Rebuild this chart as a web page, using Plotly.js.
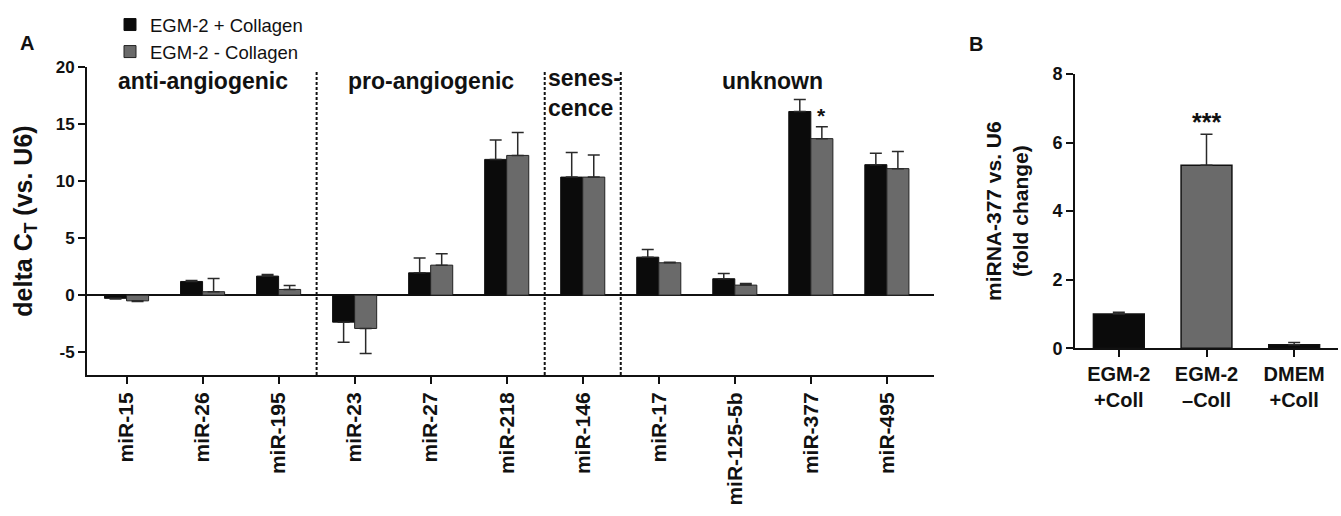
<!DOCTYPE html>
<html><head><meta charset="utf-8">
<script src="https://cdn.plot.ly/plotly-3.0.1.min.js"></script>
<style>html,body{margin:0;padding:0;background:#fff}</style>
</head><body><div id="chart" style="width:1341px;height:516px"></div>
<script>
// ---- Panel A data ----
const mirnas = ['miR-15','miR-26','miR-195','miR-23','miR-27','miR-218','miR-146','miR-17','miR-125-5b','miR-377','miR-495'];
const plusColl = [-0.28, 1.2, 1.67, -2.37, 1.96, 11.9, 10.35, 3.33, 1.44, 16.1, 11.44];
const plusCollErr = [0.05, 0.08, 0.15, 1.75, 1.3, 1.7, 2.15, 0.67, 0.46, 1.05, 1.0];
const minusColl = [-0.5, 0.3, 0.5, -2.92, 2.63, 12.25, 10.35, 2.84, 0.88, 13.72, 11.09];
const minusCollErr = [0.05, 1.15, 0.35, 2.2, 1.0, 2.0, 1.93, 0.05, 0.15, 1.05, 1.5];
const seriesNames = ['EGM-2 + Collagen', 'EGM-2 - Collagen'];
const groupNames = ['anti-angiogenic', 'pro-angiogenic', 'senes-<br>cence', 'unknown'];
const groupFirst = ['miR-15', 'miR-23', 'miR-146', 'miR-17'];
const groupLast = ['miR-195', 'miR-218', 'miR-146', 'miR-495'];
const yTicksA = [-5, 0, 5, 10, 15, 20];
const sigA = {category: 'miR-377', label: '*'};

// ---- Panel B data ----
const conditions = ['EGM-2<br>+Coll', 'EGM-2<br>–Coll', 'DMEM<br>+Coll'];
const foldChange = [1.0, 5.34, 0.1];
const foldErr = [0.05, 0.9, 0.07];
const yTicksB = [0, 2, 4, 6, 8];
const sigB = {category: 'EGM-2<br>–Coll', label: '***'};

const BLACK = '#0b0b0b', GREY = '#6a6a6a';
const FONT = 'Liberation Sans, Arial, Helvetica, sans-serif';
const up = (v, e) => v.map((x, i) => x >= 0 ? e[i] : 0);
const down = (v, e) => v.map((x, i) => x < 0 ? e[i] : 0);
const errStyle = {color: '#2a2a2a', thickness: 1.5, width: 6};

const traces = [
  {type: 'bar', name: seriesNames[0], x: mirnas, y: plusColl, xaxis: 'x', yaxis: 'y',
   marker: {color: BLACK, line: {color: '#111', width: 1}},
   error_y: Object.assign({type: 'data', symmetric: false, array: up(plusColl, plusCollErr), arrayminus: down(plusColl, plusCollErr)}, errStyle)},
  {type: 'bar', name: seriesNames[1], x: mirnas, y: minusColl, xaxis: 'x', yaxis: 'y',
   marker: {color: GREY, line: {color: '#222', width: 1}},
   error_y: Object.assign({type: 'data', symmetric: false, array: up(minusColl, minusCollErr), arrayminus: down(minusColl, minusCollErr)}, errStyle)},
  {type: 'bar', x: conditions, y: foldChange, xaxis: 'x2', yaxis: 'y2', showlegend: false,
   marker: {color: [BLACK, GREY, BLACK], line: {color: '#111', width: 1.5}},
   error_y: Object.assign({type: 'data', symmetric: false, array: foldErr, arrayminus: foldChange.map(() => 0)}, errStyle)}
];

const idx = c => mirnas.indexOf(c);
const shapes = [];
const annotations = [];
groupNames.forEach((g, i) => {
  const a = idx(groupFirst[i]), b = idx(groupLast[i]);
  if (i < groupNames.length - 1) {
    shapes.push({type: 'line', xref: 'x', yref: 'y', x0: b + 0.5, x1: b + 0.5, y0: -7, y1: 19.7,
      line: {color: '#111', width: 2, dash: '3px,2px'}});
  }
  if (a === b) {
    annotations.push({xref: 'x', yref: 'y', x: a - 0.5, y: 17.7, text: g, showarrow: false,
      xanchor: 'left', align: 'left', xshift: 1, font: {size: 23, weight: 'bold', color: '#111'}});
  } else {
    annotations.push({xref: 'x', yref: 'y', x: (a + b) / 2, y: 18.8, text: g, showarrow: false,
      font: {size: 23, weight: 'bold', color: '#111'}});
  }
});
const si = idx(sigA.category);
annotations.push({xref: 'x', yref: 'y', x: si + 0.145, y: minusColl[si] + minusCollErr[si], yanchor: 'bottom',
  text: sigA.label, showarrow: false, yshift: -2, font: {size: 21, weight: 'bold', color: '#111'}});
const sb = conditions.indexOf(sigB.category);
annotations.push({xref: 'x2', yref: 'y2', x: sb, y: foldChange[sb] + foldErr[sb], yanchor: 'bottom',
  text: sigB.label, showarrow: false, yshift: -4, font: {size: 25, weight: 'bold', color: '#111'}});
annotations.push({xref: 'paper', yref: 'paper', x: 18 / 1341, y: 1 - 30 / 516, text: 'A', showarrow: false,
  font: {size: 20, weight: 'bold', color: '#111'}});
annotations.push({xref: 'paper', yref: 'paper', x: 985 / 1341, y: 1 - 31 / 516, text: 'B', showarrow: false,
  font: {size: 20, weight: 'bold', color: '#111'}});

const axisCommon = {showline: true, linecolor: '#111', linewidth: 2, ticks: 'outside', ticklen: 7, tickwidth: 2,
  tickcolor: '#111', showgrid: false, fixedrange: true};

const layout = {
  width: 1341, height: 516, margin: {l: 0, r: 0, t: 0, b: 0}, paper_bgcolor: '#fff', plot_bgcolor: '#fff',
  font: {family: FONT, color: '#111'},
  barmode: 'group', bargap: 0.42, bargroupgap: 0,
  showlegend: true,
  legend: {x: 110 / 1341, y: 1 - 6 / 516, xanchor: 'left', yanchor: 'top', font: {size: 18.5, color: '#111'},
    bgcolor: 'rgba(0,0,0,0)', tracegroupgap: 0},
  xaxis: Object.assign({}, axisCommon, {domain: [87 / 1341, 934 / 1341], range: [-0.52, 10.62], type: 'category',
    tickangle: -90, tickfont: {size: 21, weight: 'bold'}, anchor: 'y'}),
  yaxis: Object.assign({}, axisCommon, {domain: [(516 - 375) / 516, (516 - 67) / 516], range: [-7, 20],
    tickvals: yTicksA, ticktext: yTicksA.map(String), tickfont: {size: 17, weight: 'bold'},
    zeroline: true, zerolinecolor: '#111', zerolinewidth: 2, anchor: 'x',
    title: {text: 'delta C<sub>T</sub> (vs. U6)', font: {size: 25, weight: 'bold'}, standoff: 16}}),
  xaxis2: Object.assign({}, axisCommon, {domain: [1075 / 1341, 1338 / 1341], range: [-0.5, 2.5], type: 'category',
    tickfont: {size: 20, weight: 'bold'}, anchor: 'y2'}),
  yaxis2: Object.assign({}, axisCommon, {domain: [(516 - 348.3) / 516, (516 - 74) / 516], range: [0, 8],
    tickvals: yTicksB, ticktext: yTicksB.map(String), tickfont: {size: 18, weight: 'bold'}, zeroline: false, anchor: 'x2',
    title: {text: 'miRNA-377 vs. U6<br>(fold change)', font: {size: 21, weight: 'bold'}, standoff: 18}}),
  shapes: shapes, annotations: annotations
};
Plotly.newPlot('chart', traces, layout, {displayModeBar: false, staticPlot: true});
</script></body></html>
